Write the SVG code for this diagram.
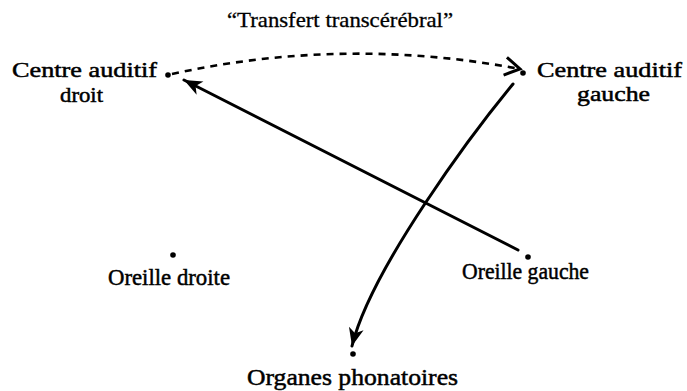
<svg xmlns="http://www.w3.org/2000/svg" width="687" height="391" viewBox="0 0 687 391">
<style>
.lbl{font-family:'Liberation Serif','Times New Roman',Times,serif;font-size:22px;fill:#000;stroke:#000;stroke-width:0.5}
.big{font-size:24px}
.ttl{font-family:'Liberation Serif','Times New Roman',Times,serif;font-size:21px;fill:#000;stroke:#000;stroke-width:0.3}
.dot{fill:#000}
.solid{fill:none;stroke:#000;stroke-width:3;stroke-linecap:round}
.dash{fill:none;stroke:#000;stroke-width:2.6;stroke-dasharray:7 6}
</style>
<defs>
<marker id="head" markerUnits="userSpaceOnUse" markerWidth="24" markerHeight="20" viewBox="-20 -10 24 20" refX="0" refY="0" orient="auto">
<path d="M0,0 L-18,-7.5 L-13,0 L-18,7.5 Z" fill="#000"/>
</marker>
<marker id="chev" markerUnits="userSpaceOnUse" markerWidth="26" markerHeight="26" viewBox="-22 -13 26 26" refX="0" refY="0" orient="auto">
<path d="M-15,-9 L0,0 L-15,9" fill="none" stroke="#000" stroke-width="3"/>
</marker>
</defs>
<rect width="687" height="391" fill="#fff"/>
<text class="ttl" x="227" y="27" textLength="226" lengthAdjust="spacingAndGlyphs">“Transfert transcérébral”</text>
<g id="connectors">
<path class="dash" d="M172,74 Q345,36 520,69" marker-end="url(#chev)"/>
<path class="solid" d="M518,250 L184,80" marker-end="url(#head)"/>
<path class="solid" d="M513,84 C475,130 371,268 352,346" marker-end="url(#head)"/>
</g>
<g id="centre-droit">
<circle class="dot" cx="168" cy="75" r="2.8"/>
<text class="lbl" x="12" y="77" textLength="145" lengthAdjust="spacingAndGlyphs">Centre auditif</text>
<text class="lbl" x="60" y="102" textLength="43" lengthAdjust="spacingAndGlyphs">droit</text>
</g>
<g id="centre-gauche">
<circle class="dot" cx="523" cy="73" r="2.8"/>
<text class="lbl" x="537" y="77" textLength="145" lengthAdjust="spacingAndGlyphs">Centre auditif</text>
<text class="lbl" x="577" y="101" textLength="73" lengthAdjust="spacingAndGlyphs">gauche</text>
</g>
<g id="oreille-droite">
<circle class="dot" cx="173" cy="255" r="2.8"/>
<text class="lbl big" x="108" y="285" textLength="122" lengthAdjust="spacingAndGlyphs">Oreille droite</text>
</g>
<g id="oreille-gauche">
<circle class="dot" cx="528" cy="257" r="2.8"/>
<text class="lbl big" x="462" y="279" textLength="127" lengthAdjust="spacingAndGlyphs">Oreille gauche</text>
</g>
<g id="organes">
<circle class="dot" cx="353" cy="354" r="2.8"/>
<text class="lbl big" x="247" y="385" textLength="211" lengthAdjust="spacingAndGlyphs">Organes phonatoires</text>
</g>
</svg>
